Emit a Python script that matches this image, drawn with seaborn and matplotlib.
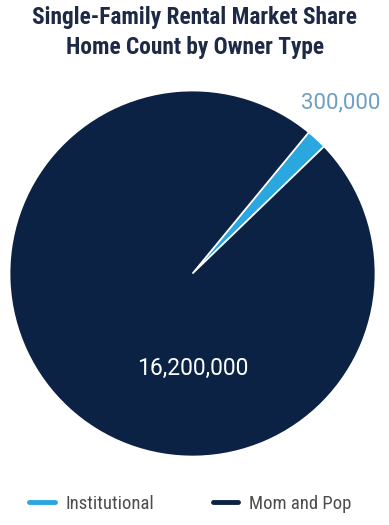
import matplotlib
matplotlib.use("Agg")
import matplotlib.pyplot as plt
from matplotlib.lines import Line2D
import seaborn as sns

sns.set_theme(style="white")
plt.rcParams['font.family'] = ['Roboto Condensed', 'DejaVu Sans']

# data
owners = ["Institutional", "Mom and Pop"]
homes = [300000, 16200000]
labels = ["300,000", "16,200,000"]
colors = ["#2aa7df", "#0c2245"]

fig = plt.figure(figsize=(3.89, 5.25), dpi=100)
ax = fig.add_axes([0.0244, 0.1305, 0.941, 0.697])

wedges, _ = ax.pie(homes, colors=colors, startangle=44, counterclock=True,
                   wedgeprops=dict(edgecolor="white", linewidth=1.2))
ax.set_aspect("equal")
ax.set_xlim(-1.0, 1.0)
ax.set_ylim(-1.0, 1.0)
ax.axis("off")

ax.text(0.81, 0.93, labels[0], color="#6c9fc4", fontsize=16,
        family=["Roboto", "DejaVu Sans"], ha="center", va="center")
ax.text(0.0, -0.52, labels[1], color="white", fontsize=16.5,
        family=["Roboto", "DejaVu Sans"], ha="center", va="center")

fig.text(0.5, 0.966, "Single-Family Rental Market Share", ha="center",
         va="center", fontsize=16.8, fontweight="bold", color="#1e2a45")
fig.text(0.5, 0.909, "Home Count by Owner Type", ha="center",
         va="center", fontsize=16.8, fontweight="bold", color="#1e2a45")

handles = [Line2D([0], [0], color=c, lw=3.5) for c in colors]
fig.legend(handles, owners, loc="center", bbox_to_anchor=(0.49, 0.04),
           ncol=2, frameon=False, fontsize=13.5, handlelength=1.35,
           handletextpad=0.6, columnspacing=3.1, labelcolor="#4d4d4d")

plt.savefig("out.png", dpi=100)
